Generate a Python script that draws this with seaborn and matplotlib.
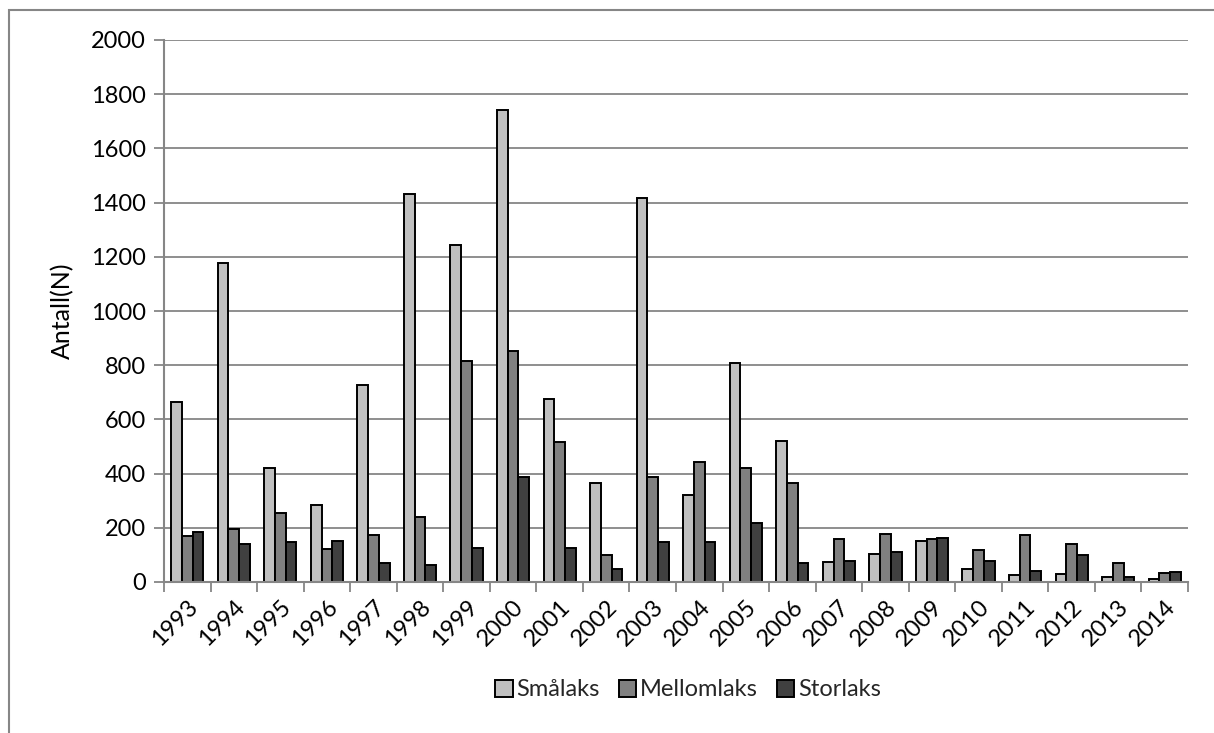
import matplotlib
matplotlib.use("Agg")
import matplotlib.pyplot as plt
from matplotlib.patches import Rectangle
import numpy as np
import pandas as pd
import seaborn as sns

# Salmon counts per year, by size class
years = [str(y) for y in range(1993, 2015)]
smalaks = [666, 1176, 422, 285, 728, 1431, 1243, 1740, 675, 366, 1416, 320,
           808, 522, 75, 104, 150, 48, 27, 29, 17, 11]
mellomlaks = [170, 195, 256, 123, 175, 241, 816, 854, 516, 101, 389, 441,
              421, 364, 157, 176, 160, 117, 172, 141, 69, 32]
storlaks = [186, 140, 149, 152, 71, 64, 127, 386, 124, 49, 148, 149,
            218, 71, 77, 112, 161, 77, 40, 98, 17, 38]
series_names = ["Smålaks", "Mellomlaks", "Storlaks"]
series_colors = ["#C0C0C0", "#808080", "#404040"]
y_ticks = list(range(0, 2001, 200))

df = pd.DataFrame({
    "År": years * 3,
    "Antall": smalaks + mellomlaks + storlaks,
    "Gruppe": [series_names[0]] * len(years) + [series_names[1]] * len(years)
              + [series_names[2]] * len(years),
})

sns.set_theme(style="white")
plt.rcParams["font.family"] = ["Lato", "DejaVu Sans"]

W, H = 1214, 733
fig = plt.figure(figsize=(W / 100, H / 100), dpi=100)
left, right, top, bottom = 164, 1188, 40, 582
ax = fig.add_axes([left / W, 1 - bottom / H, (right - left) / W, (bottom - top) / H])

grid_col = "#868686"
fs = 17

sns.barplot(data=df, x="År", y="Antall", hue="Gruppe", order=years,
            hue_order=series_names, palette=series_colors, width=0.69,
            edgecolor="black", linewidth=1.4, saturation=1, ax=ax, legend=False)

ax.set_ylim(0, 2000)
ax.set_xlim(-0.5, len(years) - 0.5)
ax.set_yticks(y_ticks)
ax.set_yticklabels([str(v) for v in y_ticks], fontsize=fs, color="black")
ax.yaxis.grid(True, color=grid_col, linewidth=1.3)
ax.set_axisbelow(True)

ax.set_xticks(range(len(years)))
ax.set_xticklabels(years, rotation=45, ha="right", rotation_mode="anchor",
                   fontsize=fs, color="black")
ax.set_xticks(np.arange(-0.5, len(years), 1.0), minor=True)
ax.tick_params(axis="x", which="major", length=0, pad=10)
ax.tick_params(axis="x", which="minor", length=7, width=1.3, color=grid_col,
               direction="out", bottom=True)
ax.tick_params(axis="y", length=7, width=1.3, color=grid_col, direction="out",
               left=True, pad=6)

for s in ["top", "right"]:
    ax.spines[s].set_visible(False)
for s in ["left", "bottom"]:
    ax.spines[s].set_color(grid_col)
    ax.spines[s].set_linewidth(1.5)

ax.set_xlabel("")
ax.set_ylabel("Antall(N)", fontsize=18, color="black", labelpad=12)

handles = [Rectangle((0, 0), 1, 1, facecolor=c, edgecolor="black", linewidth=1.4)
           for c in series_colors]
fig.legend(handles, series_names, loc="center", ncol=3,
           bbox_to_anchor=(688 / W, 1 - 690 / H), frameon=False, fontsize=fs,
           handlelength=0.75, handleheight=0.75, handletextpad=0.15,
           columnspacing=0.8)

# chart frame
fig.add_artist(Rectangle((9 / W, -0.2), 1.5, 0.2 + 1 - 10 / H,
                         transform=fig.transFigure, fill=False,
                         edgecolor=grid_col, linewidth=1.5))

fig.savefig("out.png", dpi=100, facecolor="white")
